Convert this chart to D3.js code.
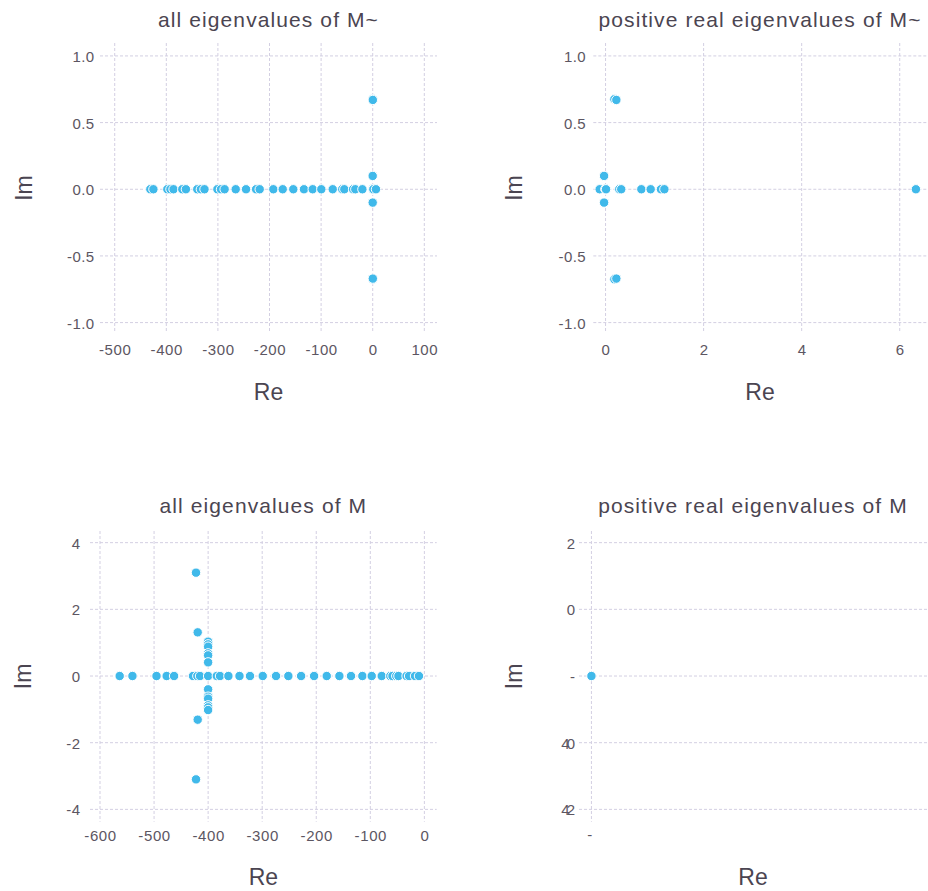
<!DOCTYPE html>
<html>
<head>
<meta charset="utf-8">
<script src="https://cdn.jsdelivr.net/npm/d3@7"></script>
<style>
  html, body { margin: 0; padding: 0; background: #ffffff; }
  svg { display: block; font-family: "Liberation Sans", Arial, sans-serif; }
</style>
</head>
<body>
<svg id="chart" width="928" height="891"></svg>
<script>
// Eigenvalues of the reduced matrix M~ : real parts and imaginary parts
const mTildeRe = [
  -431, -425, -398, -392, -386, -369, -362, -340, -333, -326,
  -301, -294, -287, -265.5, -245.5, -226, -219, -192.6, -174.4, -153.9,
  -133.2, -116.3, -99.6, -77.5, -59, -55, -38, -33.7, -20,
  -0.12, 0, 0, 0.01, -0.03, -0.03, 0.18, 0.18, 0.22, 0.22,
  0.28, 0.32, 0.73, 0.92, 1.13, 1.2, 6.33
];
const mTildeIm = [
  0, 0, 0, 0, 0, 0, 0, 0, 0, 0,
  0, 0, 0, 0, 0, 0, 0, 0, 0, 0,
  0, 0, 0, 0, 0, 0, 0, 0, 0,
  0, 0, 0, 0, 0.1, -0.1, 0.675, -0.675, 0.67, -0.67,
  0, 0, 0, 0, 0, 0, 0
];

// Eigenvalues of the full matrix M
const mRe = [
  -563.6, -540, -495.5, -476.7, -463, -428, -420, -415, -400, -384,
  -378, -362.5, -342, -322.5, -299, -274.4, -251.6, -228, -204, -180.6,
  -157.2, -135.7, -114.7, -97.4, -78.9, -63, -59, -52, -48, -33,
  -28.3, -17.3, -10,
  -400, -400, -400, -400, -400, -400, -400, -400, -400, -400, -400, -400,
  -419.3, -419.3, -422.4, -422.4
];
const mIm = [
  0, 0, 0, 0, 0, 0, 0, 0, 0, 0,
  0, 0, 0, 0, 0, 0, 0, 0, 0, 0,
  0, 0, 0, 0, 0, 0, 0, 0, 0, 0,
  0, 0, 0,
  1.03, 0.95, 0.88, 0.68, 0.62, 0.41, -0.4, -0.62, -0.68, -0.88, -0.94, -1.02,
  1.31, -1.31, 3.1, -3.1
];

// Positive real eigenvalues of M (a single value)
const mPosRe = [0];
const mPosIm = [0];

// Axis ticks and their labels
const tildeXTicksAll = [-500, -400, -300, -200, -100, 0, 100];
const tildeXTicksPos = [0, 2, 4, 6];
const tildeYTicks = [1.0, 0.5, 0.0, -0.5, -1.0];
const mXTicks = [-600, -500, -400, -300, -200, -100, 0];
const mYTicks = [4, 2, 0, -2, -4];
const mPosXTicks = [0];
const mPosXLabels = ["-"];
const mPosYTicks = [4, 2, 0, -2, -4];
const mPosYLabels = ["2", "0", "-", "40", "42"];

const titles = [
  "all eigenvalues of M~",
  "positive real eigenvalues of M~",
  "all eigenvalues of M",
  "positive real eigenvalues of M"
];

const zip = (re, im) => re.map((r, i) => ({ re: r, im: im[i] }));
const mTilde = zip(mTildeRe, mTildeIm);
const mTildePos = mTilde.filter(d => d.re > -1);

const fmtInt = d => String(d);
const fmtOne = d => d.toFixed(1);

const panels = [
  {
    title: titles[0], data: mTilde,
    left: 100, right: 437, top: 43, bottom: 333,
    xDomain: [-528.5, 124.6], yDomain: [-1.078, 1.097],
    xTicks: tildeXTicksAll, xFmt: fmtInt,
    yTicks: tildeYTicks, yFmt: fmtOne,
    titleY: 27, xLabY: 354.5, reY: 399.5, imX: 31.5, yLabX: 94.5
  },
  {
    title: titles[1], data: mTildePos,
    left: 593.3, right: 926.7, top: 43, bottom: 333,
    xDomain: [-0.25, 6.55], yDomain: [-1.078, 1.097],
    xTicks: tildeXTicksPos, xFmt: fmtInt,
    yTicks: tildeYTicks, yFmt: fmtOne,
    titleY: 27, xLabY: 354.5, reY: 399.5, imX: 522, yLabX: 586
  },
  {
    title: titles[2], data: zip(mRe, mIm),
    left: 90, right: 436.7, top: 531, bottom: 821.7,
    xDomain: [-618.5, 22.8], yDomain: [-4.37, 4.35],
    xTicks: mXTicks, xFmt: fmtInt,
    yTicks: mYTicks, yFmt: fmtInt,
    titleY: 512.7, xLabY: 841, reY: 884.5, imX: 30.7, yLabX: 80.5
  },
  {
    title: titles[3], data: zip(mPosRe, mPosIm),
    left: 579, right: 927, top: 531, bottom: 821.7,
    xDomain: [-0.1, 2.7], yDomain: [-4.37, 4.35],
    xTicks: mPosXTicks, xFmt: (d, i) => mPosXLabels[i],
    yTicks: mPosYTicks, yFmt: (d, i) => mPosYLabels[i],
    yLetterSpacing: "-3px", xLabDx: -2,
    titleY: 512.7, xLabY: 840, reY: 885, imX: 521.5, yLabX: 572
  }
];

const svg = d3.select("#chart");
const textColor = "#4b4551";
const tickColor = "#5c5662";
const gridColor = "#d3cfe2";
const markColor = "#40b9ea";

panels.forEach((p, idx) => {
  const x = d3.scaleLinear().domain(p.xDomain).range([p.left, p.right]);
  const y = d3.scaleLinear().domain(p.yDomain).range([p.bottom, p.top]);
  const g = svg.append("g");
  const cx = (p.left + p.right) / 2;
  const cy = (p.top + p.bottom) / 2;

  // dashed grid
  g.append("g").selectAll("line").data(p.xTicks).join("line")
    .attr("x1", d => x(d)).attr("x2", d => x(d))
    .attr("y1", p.top).attr("y2", p.bottom)
    .attr("stroke", gridColor).attr("stroke-width", 1)
    .attr("stroke-dasharray", "3,2");
  g.append("g").selectAll("line").data(p.yTicks).join("line")
    .attr("x1", p.left).attr("x2", p.right)
    .attr("y1", d => y(d)).attr("y2", d => y(d))
    .attr("stroke", gridColor).attr("stroke-width", 1)
    .attr("stroke-dasharray", "3,2");

  // x axis tick labels
  const xAxis = d3.axisBottom(x).tickValues(p.xTicks).tickSize(0).tickPadding(0)
    .tickFormat(p.xFmt);
  const xg = g.append("g").attr("transform", `translate(0,${p.xLabY})`).call(xAxis);
  xg.select(".domain").remove();
  xg.selectAll("text")
    .attr("dy", 0).attr("y", 0)
    .attr("dx", p.xLabDx || 0)
    .attr("fill", tickColor)
    .style("font-size", "15px")
    .style("letter-spacing", "0.6px")
    .style("font-family", "'Liberation Sans', Arial, sans-serif");

  // y axis tick labels
  const yAxis = d3.axisLeft(y).tickValues(p.yTicks).tickSize(0).tickPadding(0)
    .tickFormat(p.yFmt);
  const yg = g.append("g").attr("transform", `translate(${p.yLabX},0)`).call(yAxis);
  yg.select(".domain").remove();
  yg.selectAll("text")
    .attr("x", 0).attr("dy", "0.36em")
    .attr("fill", tickColor)
    .style("font-size", "15px")
    .style("letter-spacing", p.yLetterSpacing || "0.4px")
    .style("font-family", "'Liberation Sans', Arial, sans-serif");

  // points
  const clipId = "clip" + idx;
  svg.append("clipPath").attr("id", clipId).append("rect")
    .attr("x", p.left - 6).attr("y", p.top - 6)
    .attr("width", p.right - p.left + 12).attr("height", p.bottom - p.top + 12);
  g.append("g").attr("clip-path", `url(#${clipId})`)
    .selectAll("circle").data(p.data).join("circle")
    .attr("cx", d => x(d.re)).attr("cy", d => y(d.im))
    .attr("r", 4.7)
    .attr("fill", markColor)
    .attr("stroke", "#ffffff").attr("stroke-width", 1);

  // title
  g.append("text")
    .attr("x", cx).attr("y", p.titleY)
    .attr("text-anchor", "middle")
    .attr("fill", textColor)
    .style("font-size", "21px")
    .style("letter-spacing", "1.1px")
    .text(p.title);

  // axis names
  g.append("text")
    .attr("x", cx).attr("y", p.reY)
    .attr("text-anchor", "middle")
    .attr("fill", textColor)
    .style("font-size", "23px")
    .text("Re");
  g.append("text")
    .attr("transform", `translate(${p.imX},${cy}) rotate(-90)`)
    .attr("text-anchor", "middle")
    .attr("fill", textColor)
    .style("font-size", "23px")
    .text("Im");
});
</script>
</body>
</html>
